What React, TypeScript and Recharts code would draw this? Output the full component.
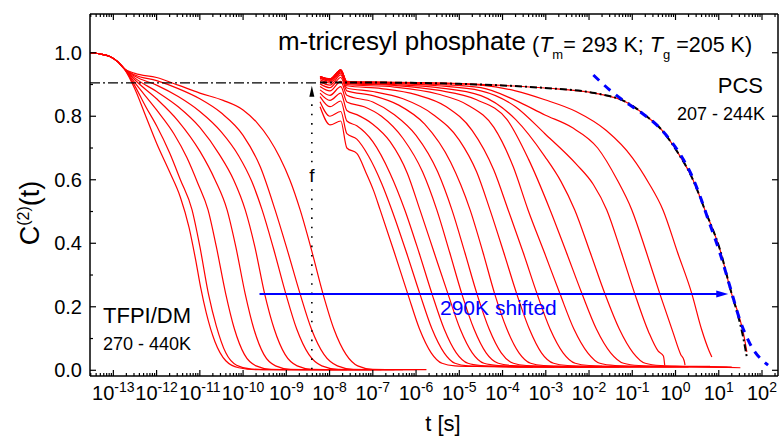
import React from "react";
import { LineChart, Line, XAxis, YAxis, ReferenceLine } from "recharts";

const FONT = "'Liberation Sans', Arial, Helvetica, sans-serif";
const W = 779;
const H = 437;

// axes (x is log10 of t in seconds)
const xDomain: [number, number] = [-13.54, 2.37];
const yDomain: [number, number] = [-0.018, 1.122];
const decades = [-13, -12, -11, -10, -9, -8, -7, -6, -5, -4, -3, -2, -1, 0, 1, 2];
const decadeLabels = ["-13", "-12", "-11", "-10", "-9", "-8", "-7", "-6", "-5", "-4", "-3", "-2", "-1", "0", "1", "2"];
const minorSteps = [2, 3, 4, 5, 6, 7, 8, 9];
const yMajor = [0, 0.2, 0.4, 0.6, 0.8, 1.0];
const yMajorLabels = ["0.0", "0.2", "0.4", "0.6", "0.8", "1.0"];
const yMinor = [0.1, 0.3, 0.5, 0.7, 0.9];

// TFPI/DM, 270 - 440K  [log10 t, C2(t)]
const dm1 = [[-13.54, 1.0], [-13.3, 0.996], [-13.08, 0.988], [-12.9, 0.972], [-12.75, 0.95], [-12.5, 0.885], [-12.25, 0.8], [-12.0, 0.715], [-11.7, 0.625], [-11.45, 0.545], [-11.25, 0.45], [-11.1, 0.35], [-10.98, 0.26], [-10.85, 0.18], [-10.65, 0.09], [-10.4, 0.03], [-10.1, 0.008], [-9.7, 0.002], [-7.6, 0.002]];
const dm2 = [[-13.54, 1.0], [-13.3, 0.996], [-13.08, 0.988], [-12.9, 0.972], [-12.75, 0.95], [-12.5, 0.895], [-12.25, 0.83], [-12.0, 0.77], [-11.7, 0.685], [-11.45, 0.6], [-11.18, 0.505], [-11.0, 0.39], [-10.8, 0.24], [-10.62, 0.14], [-10.4, 0.055], [-10.15, 0.016], [-9.8, 0.004], [-9.3, 0.002], [-7.3, 0.002]];
const dm3 = [[-13.54, 1.0], [-13.3, 0.996], [-13.08, 0.988], [-12.9, 0.972], [-12.75, 0.95], [-12.5, 0.905], [-12.0, 0.82], [-11.6, 0.745], [-11.3, 0.67], [-11.05, 0.59], [-10.81, 0.505], [-10.62, 0.39], [-10.4, 0.24], [-10.2, 0.13], [-9.97, 0.05], [-9.7, 0.014], [-9.35, 0.003], [-8.8, 0.002], [-7.0, 0.002]];
const dm4 = [[-13.54, 1.0], [-13.3, 0.996], [-13.08, 0.988], [-12.9, 0.972], [-12.75, 0.95], [-12.5, 0.914], [-12.0, 0.855], [-11.5, 0.785], [-11.0, 0.69], [-10.65, 0.6], [-10.37, 0.505], [-10.17, 0.39], [-9.95, 0.24], [-9.75, 0.13], [-9.52, 0.05], [-9.25, 0.014], [-8.9, 0.003], [-8.3, 0.002], [-6.8, 0.002]];
const dm5 = [[-13.54, 1.0], [-13.3, 0.996], [-13.08, 0.988], [-12.9, 0.972], [-12.75, 0.95], [-12.5, 0.92], [-12.0, 0.878], [-11.5, 0.83], [-11.0, 0.765], [-10.55, 0.68], [-10.22, 0.6], [-9.95, 0.505], [-9.73, 0.39], [-9.5, 0.24], [-9.28, 0.13], [-9.03, 0.05], [-8.75, 0.014], [-8.4, 0.003], [-7.8, 0.002], [-6.5, 0.002]];
const dm6 = [[-13.54, 1.0], [-13.3, 0.996], [-13.08, 0.988], [-12.9, 0.972], [-12.75, 0.95], [-12.5, 0.926], [-12.0, 0.898], [-11.5, 0.862], [-11.0, 0.815], [-10.5, 0.75], [-10.1, 0.675], [-9.8, 0.595], [-9.56, 0.505], [-9.3, 0.385], [-9.01, 0.24], [-8.76, 0.13], [-8.48, 0.05], [-8.18, 0.014], [-7.8, 0.003], [-7.2, 0.002], [-6.3, 0.002]];
const dm7 = [[-13.54, 1.0], [-13.3, 0.996], [-13.08, 0.988], [-12.9, 0.972], [-12.75, 0.95], [-12.5, 0.93], [-12.0, 0.912], [-11.5, 0.887], [-11.0, 0.855], [-10.5, 0.81], [-10.0, 0.74], [-9.6, 0.64], [-9.26, 0.505], [-8.98, 0.38], [-8.68, 0.24], [-8.42, 0.13], [-8.13, 0.05], [-7.82, 0.014], [-7.45, 0.003], [-6.8, 0.002], [-6.0, 0.002]];
const dm8 = [[-13.54, 1.0], [-13.3, 0.996], [-13.08, 0.988], [-12.9, 0.972], [-12.75, 0.95], [-12.5, 0.935], [-12.0, 0.922], [-11.5, 0.898], [-11.0, 0.873], [-10.46, 0.85], [-10.0, 0.82], [-9.68, 0.78], [-9.4, 0.73], [-9.15, 0.67], [-8.92, 0.6], [-8.68, 0.505], [-8.42, 0.38], [-8.15, 0.24], [-7.9, 0.13], [-7.62, 0.05], [-7.35, 0.014], [-7.0, 0.003], [-6.4, 0.002], [-5.76, 0.002]];

// PCS, 207 - 244K, 290K shifted
const pcs1 = [[-8.22, 0.83], [-7.99, 0.773], [-7.74, 0.785], [-7.6, 0.7], [-7.37, 0.683], [-7.15, 0.62], [-6.98, 0.565], [-6.83, 0.505], [-6.5, 0.37], [-6.19, 0.24], [-5.92, 0.13], [-5.65, 0.055], [-5.4, 0.022], [-5.1, 0.014], [-4.6, 0.012], [-4.0, 0.011], [-3.3, 0.01]];
const pcs2 = [[-8.22, 0.846], [-7.99, 0.8], [-7.74, 0.815], [-7.6, 0.745], [-7.37, 0.728], [-7.1, 0.675], [-6.8, 0.59], [-6.56, 0.505], [-6.22, 0.37], [-5.91, 0.24], [-5.63, 0.13], [-5.35, 0.055], [-5.1, 0.022], [-4.8, 0.014], [-4.2, 0.012], [-3.5, 0.01], [-2.8, 0.01]];
const pcs3 = [[-8.22, 0.862], [-7.99, 0.83], [-7.74, 0.848], [-7.6, 0.785], [-7.37, 0.77], [-7.0, 0.72], [-6.6, 0.62], [-6.26, 0.505], [-5.93, 0.37], [-5.63, 0.24], [-5.35, 0.13], [-5.07, 0.055], [-4.8, 0.022], [-4.5, 0.015], [-3.9, 0.012], [-3.0, 0.01], [-2.3, 0.011]];
const pcs4 = [[-8.22, 0.873], [-7.99, 0.85], [-7.74, 0.873], [-7.6, 0.818], [-7.37, 0.805], [-7.0, 0.775], [-6.6, 0.72], [-6.2, 0.62], [-5.91, 0.505], [-5.58, 0.37], [-5.26, 0.24], [-4.98, 0.13], [-4.7, 0.055], [-4.43, 0.022], [-4.1, 0.015], [-3.4, 0.012], [-2.5, 0.01], [-1.8, 0.011]];
const pcs5 = [[-8.22, 0.883], [-7.99, 0.866], [-7.74, 0.893], [-7.6, 0.845], [-7.2, 0.83], [-6.8, 0.8], [-6.3, 0.73], [-5.85, 0.625], [-5.52, 0.505], [-5.22, 0.37], [-4.94, 0.24], [-4.66, 0.13], [-4.38, 0.055], [-4.1, 0.022], [-3.8, 0.015], [-3.1, 0.012], [-2.2, 0.01], [-1.3, 0.011]];
const pcs6 = [[-8.22, 0.894], [-7.99, 0.88], [-7.74, 0.91], [-7.6, 0.866], [-7.0, 0.845], [-6.5, 0.805], [-6.0, 0.74], [-5.5, 0.625], [-5.17, 0.505], [-4.87, 0.37], [-4.59, 0.24], [-4.31, 0.13], [-4.03, 0.055], [-3.75, 0.022], [-3.45, 0.015], [-2.7, 0.012], [-1.8, 0.01], [-0.8, 0.012]];
const pcs7 = [[-8.22, 0.902], [-7.99, 0.89], [-7.74, 0.922], [-7.6, 0.88], [-7.0, 0.865], [-6.4, 0.835], [-5.8, 0.775], [-5.2, 0.655], [-4.75, 0.505], [-4.45, 0.37], [-4.18, 0.24], [-3.9, 0.13], [-3.62, 0.055], [-3.35, 0.022], [-3.05, 0.015], [-2.3, 0.012], [-1.3, 0.01], [-0.3, 0.012]];
const pcs8 = [[-8.22, 0.909], [-7.99, 0.898], [-7.74, 0.93], [-7.6, 0.889], [-7.0, 0.878], [-6.3, 0.855], [-5.6, 0.805], [-5.0, 0.725], [-4.6, 0.625], [-4.29, 0.505], [-3.97, 0.37], [-3.67, 0.24], [-3.38, 0.13], [-3.1, 0.055], [-2.82, 0.022], [-2.5, 0.015], [-1.7, 0.012], [-0.7, 0.01], [0.3, 0.011]];
const pcs9 = [[-8.22, 0.915], [-7.99, 0.905], [-7.74, 0.936], [-7.6, 0.896], [-6.8, 0.887], [-6.0, 0.868], [-5.3, 0.83], [-4.7, 0.755], [-4.2, 0.63], [-3.87, 0.505], [-3.52, 0.37], [-3.2, 0.24], [-2.9, 0.13], [-2.6, 0.055], [-2.32, 0.022], [-2.0, 0.015], [-1.2, 0.012], [-0.2, 0.011], [0.8, 0.012]];
const pcs10 = [[-8.22, 0.92], [-7.99, 0.91], [-7.74, 0.94], [-7.6, 0.9], [-6.5, 0.892], [-5.5, 0.87], [-4.8, 0.835], [-4.2, 0.765], [-3.75, 0.64], [-3.41, 0.505], [-3.03, 0.37], [-2.67, 0.24], [-2.35, 0.13], [-2.03, 0.055], [-1.75, 0.022], [-1.4, 0.015], [-0.6, 0.012], [0.4, 0.011], [1.2, 0.009]];
const pcs11 = [[-8.22, 0.924], [-7.99, 0.913], [-7.74, 0.943], [-7.6, 0.903], [-6.5, 0.897], [-5.5, 0.882], [-4.6, 0.852], [-3.9, 0.79], [-3.4, 0.665], [-2.9, 0.505], [-2.52, 0.37], [-2.16, 0.24], [-1.83, 0.13], [-1.5, 0.055], [-1.2, 0.022], [-0.85, 0.015], [0.0, 0.012], [0.9, 0.01], [1.5, 0.008]];
const pcs12 = [[-8.22, 0.925], [-7.99, 0.915], [-7.74, 0.944], [-7.6, 0.905], [-6.5, 0.9], [-5.5, 0.89], [-4.5, 0.865], [-3.7, 0.79], [-3.02, 0.673], [-2.65, 0.595], [-2.33, 0.505], [-1.97, 0.37], [-1.63, 0.24], [-1.3, 0.13], [-0.98, 0.055], [-0.7, 0.022], [-0.35, 0.015], [0.5, 0.012], [1.3, 0.01]];
const pcs13 = [[-8.22, 0.925], [-7.99, 0.916], [-7.74, 0.945], [-7.6, 0.906], [-6.5, 0.903], [-5.5, 0.896], [-4.5, 0.88], [-3.7, 0.83], [-3.02, 0.745], [-2.3, 0.65], [-1.9, 0.585], [-1.59, 0.505], [-1.25, 0.37], [-0.94, 0.24], [-0.62, 0.12], [-0.4, 0.06], [-0.28, 0.045], [-0.25, 0.016]];
const pcs14 = [[-8.22, 0.925], [-7.99, 0.917], [-7.74, 0.946], [-7.6, 0.907], [-6.5, 0.905], [-5.5, 0.9], [-4.5, 0.89], [-3.7, 0.85], [-3.02, 0.804], [-2.4, 0.765], [-1.8, 0.7], [-1.35, 0.6], [-1.01, 0.505], [-0.67, 0.37], [-0.36, 0.24], [-0.06, 0.12], [0.12, 0.05], [0.2, 0.03], [0.22, 0.016]];
const pcs15 = [[-8.22, 0.925], [-7.99, 0.918], [-7.74, 0.946], [-7.6, 0.908], [-6.5, 0.906], [-5.5, 0.904], [-4.5, 0.898], [-3.7, 0.88], [-3.02, 0.852], [-2.3, 0.815], [-1.6, 0.755], [-1.0, 0.67], [-0.62, 0.59], [-0.29, 0.505], [0.05, 0.37], [0.38, 0.24], [0.6, 0.13], [0.78, 0.06], [0.84, 0.042]];
const pcs16 = [[-8.22, 0.925], [-7.99, 0.918], [-7.74, 0.946], [-7.6, 0.91], [-7.0, 0.908], [-6.0, 0.906], [-5.0, 0.903], [-4.0, 0.897], [-3.02, 0.889], [-1.87, 0.873], [-1.09, 0.841], [-0.71, 0.804], [-0.32, 0.757], [0.06, 0.684], [0.37, 0.61], [0.68, 0.505], [1.03, 0.379], [1.3, 0.24], [1.45, 0.179], [1.57, 0.117], [1.65, 0.058]];

// fit through the slowest PCS curve (black dash-dot) and the blue dashed curve
const pcsFit = [[-8.22, 0.906], [-7.0, 0.906], [-5.0, 0.902], [-4.0, 0.897], [-3.02, 0.889], [-1.87, 0.873], [-1.09, 0.841], [-0.71, 0.804], [-0.32, 0.757], [0.06, 0.684], [0.37, 0.61], [0.68, 0.505], [1.03, 0.379], [1.3, 0.24], [1.45, 0.17], [1.57, 0.1], [1.65, 0.04]];
const blueFit = [[-1.9, 0.93], [-1.48, 0.878], [-1.17, 0.846], [-0.78, 0.81], [-0.4, 0.768], [-0.13, 0.726], [0.14, 0.673], [0.37, 0.615], [0.57, 0.547], [0.76, 0.473], [1.03, 0.368], [1.26, 0.263], [1.49, 0.158], [1.72, 0.084], [2.14, 0.016]];

// annotation anchors
const plateauF = 0.905;
const plateauEnd = -8.27;
const fLineX = -8.41;
const shiftLevel = 0.24;
const shiftFrom = -9.62;
const shiftTo = 1.22;

const dmCurves = [dm1, dm2, dm3, dm4, dm5, dm6, dm7, dm8];
const pcsCurves = [pcs1, pcs2, pcs3, pcs4, pcs5, pcs6, pcs7, pcs8, pcs9, pcs10, pcs11, pcs12, pcs13, pcs14, pcs15, pcs16];

const rows = (pts: number[][]) => pts.map(([x, y]) => ({ x, y }));

const xTicks: number[] = [];
[-14, ...decades].forEach((d) => {
  if (d >= xDomain[0]) xTicks.push(d);
  minorSteps.forEach((k) => {
    const v = d + Math.log10(k);
    if (v > xDomain[0] && v < xDomain[1]) xTicks.push(v);
  });
});
const yTicks = [...yMajor, ...yMinor].sort((a, b) => a - b);

const isDecade = (v: number) => decades.includes(v);

const BottomTick = (p: any) => {
  const { x, y, payload } = p;
  const v = payload.value;
  const major = isDecade(v);
  return (
    <g>
      <line x1={x} x2={x} y1={y} y2={y - (major ? 6 : 3)} stroke="#000" strokeWidth={1.2} />
      {major && (
        <text x={x} y={y + 24} textAnchor="middle" fontSize={20} fontFamily={FONT} fill="#000">
          10<tspan dy={-8} fontSize={14}>{decadeLabels[decades.indexOf(v)]}</tspan>
        </text>
      )}
    </g>
  );
};

const TopTick = (p: any) => {
  const { x, y, payload } = p;
  const major = isDecade(payload.value);
  return <line x1={x} x2={x} y1={y} y2={y + (major ? 6 : 3)} stroke="#000" strokeWidth={1.2} />;
};

const LeftTick = (p: any) => {
  const { x, y, payload } = p;
  const i = yMajor.indexOf(payload.value);
  return (
    <g>
      <line x1={x} x2={x + (i >= 0 ? 6 : 3)} y1={y} y2={y} stroke="#000" strokeWidth={1.2} />
      {i >= 0 && (
        <text x={x - 8} y={y + 7} textAnchor="end" fontSize={20} fontFamily={FONT} fill="#000">
          {yMajorLabels[i]}
        </text>
      )}
    </g>
  );
};

const RightTick = (p: any) => {
  const { x, y } = p;
  return <line x1={x} x2={x - 6} y1={y} y2={y} stroke="#000" strokeWidth={1.2} />;
};

const ShiftArrow = (p: any) => {
  const { x1, y1, x2, y2 } = p;
  return (
    <g>
      <line x1={x1} y1={y1} x2={x2 - 10} y2={y2} stroke="#0000ff" strokeWidth={2} />
      <polygon points={`${x2},${y2} ${x2 - 12},${y2 - 3.5} ${x2 - 12},${y2 + 3.5}`} fill="#0000ff" />
    </g>
  );
};

const UpArrowDotted = (p: any) => {
  const { x1, y1, x2, y2 } = p;
  return (
    <g>
      <line x1={x1} y1={y1} x2={x2} y2={y2 + 11} stroke="#000" strokeWidth={1.6} strokeDasharray="1.6 7.8" />
      <polygon points={`${x2},${y2} ${x2 - 2.5},${y2 + 11} ${x2 + 2.5},${y2 + 11}`} fill="#000" />
    </g>
  );
};

const Dotted = (p: any) => {
  const { x1, y1, x2, y2 } = p;
  return <line x1={x1} y1={y1} x2={x2} y2={y2} stroke="#000" strokeWidth={1.6} strokeDasharray="1.6 7.8" />;
};

export default function App() {
  return (
    <div style={{ position: "absolute", left: 0, top: 0, width: W, height: H, background: "#fff" }}>
      <LineChart width={W} height={H} margin={{ top: 0, right: 0, bottom: 0, left: 0 }}>
        <XAxis
          dataKey="x"
          type="number"
          domain={xDomain}
          allowDataOverflow
          ticks={xTicks}
          interval={0}
          height={61}
          tickSize={0}
          tickMargin={0}
          tickLine={false}
          tick={BottomTick}
          axisLine={{ stroke: "#000", strokeWidth: 1.5 }}
        />
        <XAxis
          xAxisId="top"
          orientation="top"
          dataKey="x"
          type="number"
          domain={xDomain}
          allowDataOverflow
          ticks={xTicks}
          interval={0}
          height={14}
          tickSize={0}
          tickMargin={0}
          tickLine={false}
          tick={TopTick}
          axisLine={{ stroke: "#000", strokeWidth: 1.5 }}
        />
        <YAxis
          type="number"
          domain={yDomain}
          allowDataOverflow
          ticks={yTicks}
          interval={0}
          width={90}
          tickSize={0}
          tickMargin={0}
          tickLine={false}
          tick={LeftTick}
          axisLine={{ stroke: "#000", strokeWidth: 1.5 }}
        />
        <YAxis
          yAxisId="right"
          orientation="right"
          type="number"
          domain={yDomain}
          allowDataOverflow
          ticks={yMajor}
          interval={0}
          width={1}
          tickSize={0}
          tickMargin={0}
          tickLine={false}
          tick={RightTick}
          axisLine={{ stroke: "#000", strokeWidth: 1.5 }}
        />
        {dmCurves.map((c, i) => (
          <Line key={"dm" + i} data={rows(c)} dataKey="y" type="monotone" stroke="#ff0000" strokeWidth={1.2} dot={false} isAnimationActive={false} />
        ))}
        {pcsCurves.map((c, i) => (
          <Line key={"pcs" + i} data={rows(c)} dataKey="y" type="monotone" stroke="#ff0000" strokeWidth={1.2} dot={false} isAnimationActive={false} />
        ))}
        <Line data={rows(pcsFit)} dataKey="y" type="monotone" stroke="#000" strokeWidth={2} strokeDasharray="7 3 2 3" dot={false} isAnimationActive={false} />
        <Line data={rows(blueFit)} dataKey="y" type="monotone" stroke="#0000ff" strokeWidth={3} strokeDasharray="8 7" dot={false} isAnimationActive={false} />
        <ReferenceLine
          segment={[{ x: xDomain[0], y: plateauF }, { x: plateauEnd, y: plateauF }]}
          stroke="#000"
          strokeWidth={1.4}
          strokeDasharray="10 3 2 3"
        />
        <ReferenceLine segment={[{ x: fLineX, y: 0.003 }, { x: fLineX, y: 0.57 }]} shape={Dotted} />
        <ReferenceLine segment={[{ x: fLineX, y: 0.655 }, { x: fLineX, y: 0.896 }]} shape={UpArrowDotted} />
        <ReferenceLine segment={[{ x: shiftFrom, y: shiftLevel }, { x: shiftTo, y: shiftLevel }]} shape={ShiftArrow} />
      </LineChart>
      <svg width={W} height={H} style={{ position: "absolute", left: 0, top: 0, pointerEvents: "none" }} fontFamily={FONT}>
        <text x={278} y={50} fontSize={25} textLength={248} lengthAdjust="spacingAndGlyphs" fill="#000">m-tricresyl phosphate</text>
        <text x={532} y={52} fontSize={21.5} fill="#000">
          <tspan>(</tspan>
          <tspan fontStyle="italic">T</tspan>
          <tspan dy={7} fontSize={13}>m</tspan>
          <tspan dy={-7}>= 293 K; </tspan>
          <tspan fontStyle="italic">T</tspan>
          <tspan dy={7} fontSize={13}>g</tspan>
          <tspan dy={-7}> =205 K)</tspan>
        </text>
        <text x={763} y={93} fontSize={22} textAnchor="end" fill="#000">PCS</text>
        <text x={765} y={120} fontSize={18} textAnchor="end" fill="#000">207 - 244K</text>
        <text x={103} y={323} fontSize={22} fill="#000">TFPI/DM</text>
        <text x={103} y={350} fontSize={18} fill="#000">270 - 440K</text>
        <text x={440} y={315} fontSize={21} fill="#0000ff">290K shifted</text>
        <text x={312} y={182} fontSize={19} textAnchor="middle" fill="#000">f</text>
        <text x={443} y={431} fontSize={22} textAnchor="middle" fill="#000">t [s]</text>
        <text transform="translate(39,213) rotate(-90)" fontSize={27} textAnchor="middle" fill="#000">
          C<tspan dy={-10} fontSize={16}>(2)</tspan>
          <tspan dy={10}>(t)</tspan>
        </text>
      </svg>
    </div>
  );
}
